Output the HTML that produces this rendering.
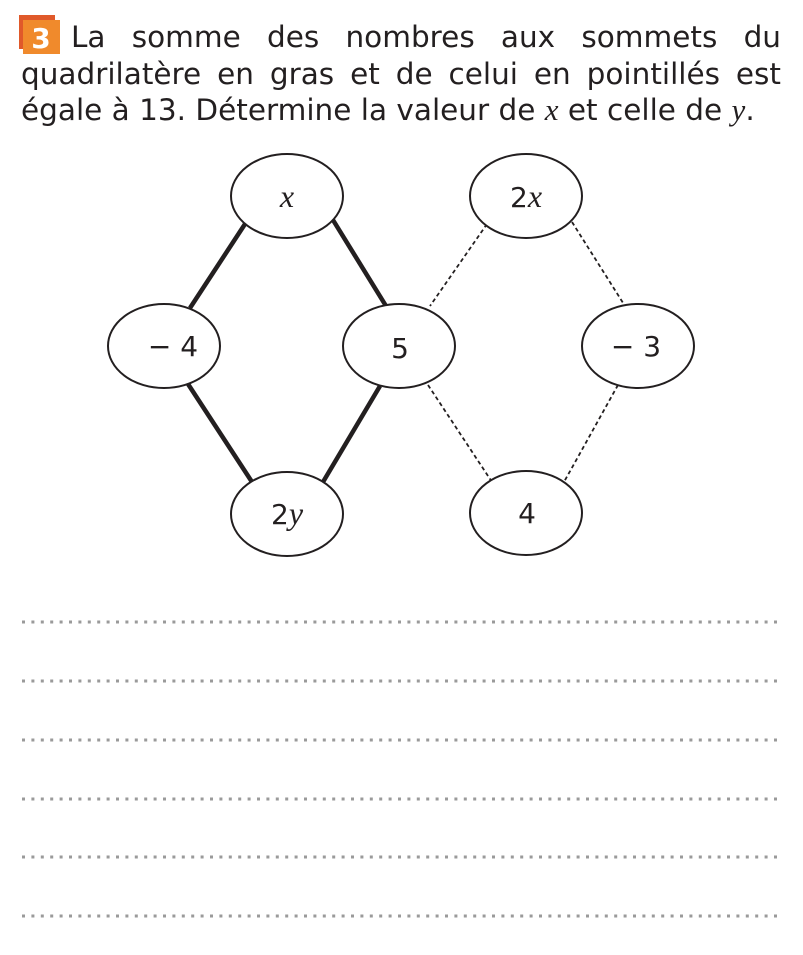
<!DOCTYPE html>
<html><head><meta charset="utf-8"><style>
html,body{margin:0;padding:0;background:#fff;width:803px;height:955px;overflow:hidden;position:relative}
#t{position:absolute;left:21px;top:19px;width:760px;font-family:"DejaVu Sans",sans-serif;font-size:29.5px;line-height:36.5px;color:#231f20;text-align:justify;text-indent:50px}
#t i{font-family:"Liberation Serif",serif;font-size:31px}
</style></head><body>
<svg width="803" height="955" xmlns="http://www.w3.org/2000/svg" style="position:absolute;left:0;top:0">
<rect x="19" y="15" width="36" height="34" fill="#e0592a"/>
<rect x="23" y="20" width="37" height="34" fill="#f08a2c"/>
<text x="41" y="48" font-family="DejaVu Sans" font-weight="bold" font-size="28" fill="#fff" text-anchor="middle">3</text>
<g stroke="#231f20" stroke-width="4.5">
<line x1="245" y1="224" x2="190" y2="308"/>
<line x1="333" y1="220" x2="386" y2="306"/>
<line x1="188" y1="384" x2="252" y2="482"/>
<line x1="380" y1="386" x2="323" y2="482"/>
</g>
<g stroke="#231f20" stroke-width="1.8" stroke-dasharray="4,3">
<line x1="487" y1="224" x2="430" y2="306"/>
<line x1="572" y1="222" x2="625" y2="306"/>
<line x1="428" y1="385" x2="492" y2="482"/>
<line x1="618" y1="385" x2="564" y2="482"/>
</g>
<g fill="#fff" stroke="#231f20" stroke-width="2">
<ellipse cx="287" cy="196" rx="56" ry="42"/>
<ellipse cx="526" cy="196" rx="56" ry="42"/>
<ellipse cx="164" cy="346" rx="56" ry="42"/>
<ellipse cx="399" cy="346" rx="56" ry="42"/>
<ellipse cx="638" cy="346" rx="56" ry="42"/>
<ellipse cx="287" cy="514" rx="56" ry="42"/>
<ellipse cx="526" cy="513" rx="56" ry="42"/>
</g>
<g font-family="DejaVu Sans, sans-serif" font-size="28" fill="#231f20" text-anchor="middle">
<text x="287" y="207" font-family="Liberation Serif" font-style="italic" font-size="32">x</text>
<text x="526" y="207">2<tspan font-family="Liberation Serif" font-style="italic" font-size="32">x</tspan></text>
<text x="173" y="356">−  4</text>
<text x="400" y="358">5</text>
<text x="636" y="356">−  3</text>
<text x="287" y="524">2<tspan font-family="Liberation Serif" font-style="italic" font-size="32">y</tspan></text>
<text x="527" y="523">4</text>
</g>
<g stroke="#9a9a9a" stroke-width="3" stroke-dasharray="3,6.4">
<line x1="22" y1="622" x2="781" y2="622"/>
<line x1="22" y1="681" x2="781" y2="681"/>
<line x1="22" y1="740" x2="781" y2="740"/>
<line x1="22" y1="799" x2="781" y2="799"/>
<line x1="22" y1="857" x2="781" y2="857"/>
<line x1="22" y1="916" x2="781" y2="916"/>
</g>
</svg>
<div id="t">La somme des nombres aux sommets du quadrilatère en gras et de celui en pointillés est égale à 13. Détermine la valeur de <i>x</i> et celle de <i>y</i>.</div>
</body></html>
